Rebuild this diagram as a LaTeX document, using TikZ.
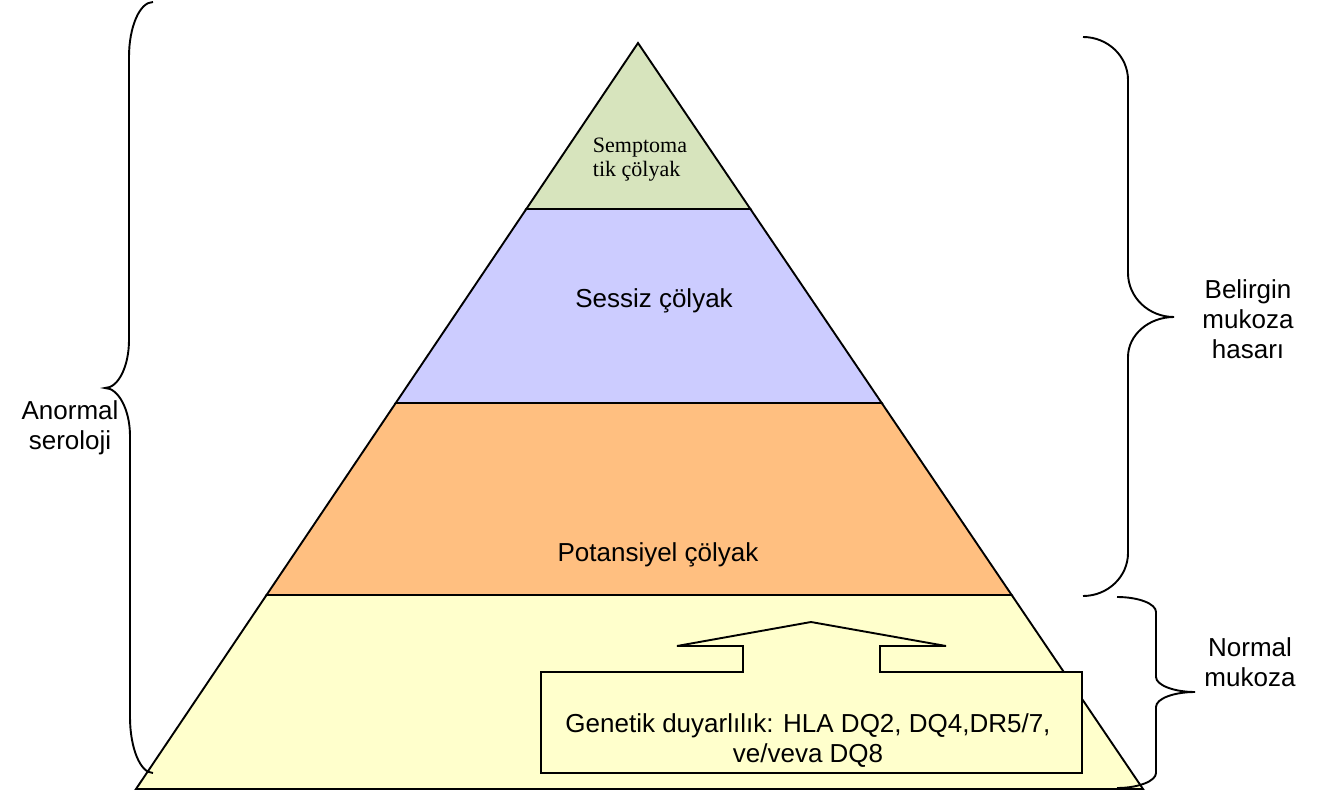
\documentclass[tikz,border=0pt]{standalone}
\usepackage{fontspec}
\setmainfont{Liberation Sans}
\newfontfamily\timesfont{Liberation Serif}
\usetikzlibrary{calc}
\definecolor{lgreen}{RGB}{215,228,189}
\definecolor{lblue}{RGB}{204,204,255}
\definecolor{lorange}{RGB}{255,191,128}
\definecolor{lyellow}{RGB}{255,255,204}
\begin{document}
\begin{tikzpicture}[x=1pt,y=-1pt,
  layer/.style={draw=black,line width=1.9pt,line join=miter},
  bracepath/.style={draw=black,line width=1.9pt},
  lbl/.style={inner sep=0pt,align=center,font=\fontsize{26}{30}\selectfont},
  serlbl/.style={inner sep=0pt,align=left,font=\timesfont\fontsize{22}{24}\selectfont}]
\useasboundingbox (0,0) rectangle (1328,791);
% pyramid corners
\coordinate (apex) at (638,43);
\coordinate (bl) at (136,789);
\coordinate (br) at (1143,789);
\coordinate (l1) at ($(apex)!0.22252!(bl)$);
\coordinate (r1) at ($(apex)!0.22252!(br)$);
\coordinate (l2) at ($(apex)!0.48257!(bl)$);
\coordinate (r2) at ($(apex)!0.48257!(br)$);
\coordinate (l3) at ($(apex)!0.73995!(bl)$);
\coordinate (r3) at ($(apex)!0.73995!(br)$);
% layers
\path[layer,fill=lyellow] (l3) -- (r3) -- (br) -- (bl) -- cycle;
\path[layer,fill=lorange] (l2) -- (r2) -- (r3) -- (l3) -- cycle;
\path[layer,fill=lblue] (l1) -- (r1) -- (r2) -- (l2) -- cycle;
\path[layer,fill=lgreen] (apex) -- (r1) -- (l1) -- cycle;
% callout with up arrow
\path[layer,fill=lyellow] (541,672) -- (743,672) -- (743,646) -- (677,646) -- (811,622)
  -- (946,646) -- (880,646) -- (880,672) -- (1082,672) -- (1082,773) -- (541,773) -- cycle;
% texts
\node[serlbl] (semp) at (640,160) {Semptoma\\tik çölyak};
\node[lbl] (sessiz) at (654,301) {Sessiz çölyak};
\node[lbl] (potan) at (658,555) {Potansiyel çölyak};
\node[lbl] (genetik) at (808,741) {Genetik duyarlılık: HLA DQ2, DQ4,DR5/7,\\ve/veva DQ8};
\node[lbl] (anormal) at (70,428) {Anormal\\seroloji};
\node[lbl] (belirgin) at (1248,319) {Belirgin\\mukoza\\hasarı};
\node[lbl] (normal) at (1250,662) {Normal\\mukoza};
% left brace
\path[bracepath] (153,2) .. controls (139.8,2) and (129,26.6) .. (129,57)
  -- (129,340) .. controls (129,366.5) and (118.2,388) .. (105,388)
  .. controls (118.2,388) and (130,409.5) .. (130,436)
  -- (130,717) .. controls (130,748) and (140.3,773) .. (153,773);
% right brace 1
\path[bracepath] (1083,37) .. controls (1107.8,37) and (1128,56.3) .. (1128,80)
  -- (1128,273) .. controls (1128,297.3) and (1148.6,317) .. (1174,317)
  .. controls (1148.6,317) and (1128,335) .. (1128,357)
  -- (1128,553) .. controls (1128,576.7) and (1107.8,596) .. (1083,596);
% right brace 2
\path[bracepath] (1117,597) .. controls (1138.5,597) and (1156,603.7) .. (1156,612)
  -- (1156,677) .. controls (1156,685) and (1173.5,692) .. (1195,692)
  .. controls (1173.5,692) and (1156,698.7) .. (1156,707)
  -- (1156,773) .. controls (1156,781) and (1138.5,788) .. (1117,788);
\end{tikzpicture}
\end{document}
